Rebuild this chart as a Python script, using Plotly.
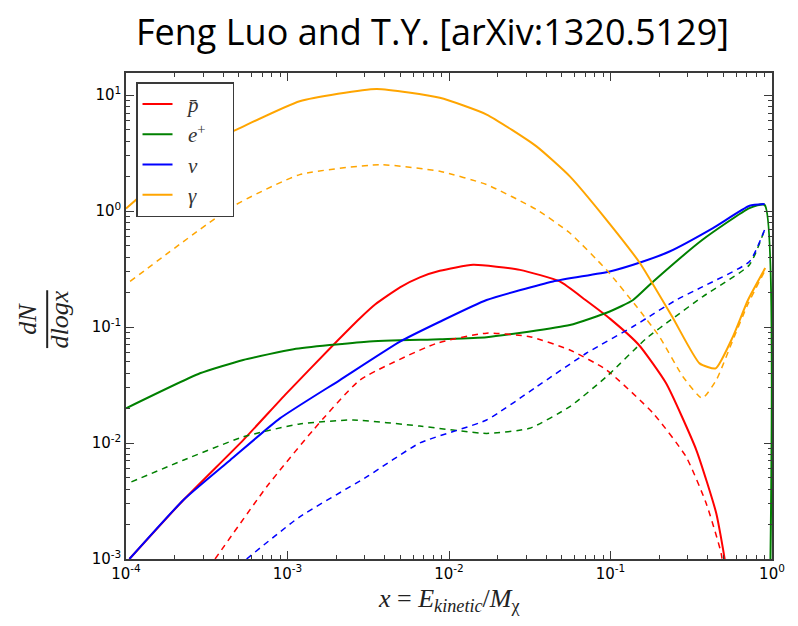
import plotly.graph_objects as go

# ---------------- data ----------------
# anti-proton
pbar_x = [1.05e-4, 2.26e-4, 5.32e-4, 9.86e-4, 1.92e-3, 2.81e-3, 3.5e-3, 4.97e-3, 6.6e-3, 8.77e-3,
          1.41e-2, 2.75e-2, 4.85e-2, 7.0e-2, 0.10, 0.15, 0.221, 0.34, 0.452, 0.509, 0.537]
pbar_y = [1.0e-3, 3.21e-3, 1.06e-2, 2.68e-2, 7.0e-2, 0.119, 0.157, 0.22, 0.268, 0.305,
          0.344, 0.311, 0.247, 0.171, 0.117, 0.070, 0.0327, 8.7e-3, 2.47e-3, 1.0e-3, 5.0e-4]
pbar_d_x = [3.56e-4, 7.43e-4, 1.44e-3, 2.81e-3, 8.38e-3, 1.71e-2, 3.16e-2, 5.6e-2, 0.0944, 0.184,
            0.294, 0.392, 0.485, 0.51]
pbar_d_y = [1.0e-3, 4.19e-3, 1.29e-2, 3.49e-2, 0.0724, 0.0885, 0.0826, 0.0634, 0.0427, 0.018,
            7.6e-3, 3.0e-3, 1.11e-3, 6.0e-4]

# positron
ep_x = [1.0e-4, 2.87e-4, 5.32e-4, 1.09e-3, 3.09e-3, 8.77e-3, 1.71e-2, 5.6e-2, 0.0989, 0.138,
        0.184, 0.373, 0.726, 0.90, 0.97]
ep_y = [0.0199, 0.0399, 0.052, 0.0643, 0.0748, 0.0785, 0.0817, 0.104, 0.136, 0.171,
        0.247, 0.568, 1.06, 1.13, 4.0e-4]
ep_d_x = [1.08e-4, 2.26e-4, 5.32e-4, 1.19e-3, 2.55e-3, 6.59e-3, 1.71e-2, 3.16e-2, 5.6e-2, 0.0944,
          0.167, 0.244, 0.373, 0.726, 0.90]
ep_d_y = [4.62e-3, 7.1e-3, 0.0113, 0.0146, 0.0158, 0.014, 0.0121, 0.0134, 0.0206, 0.0373,
          0.080, 0.119, 0.183, 0.344, 0.69]

# neutrino
nu_x = [1.05e-4, 2.26e-4, 4.41e-4, 8.97e-4, 2.11e-3, 4.97e-3, 8.77e-3, 1.71e-2, 4.41e-2, 0.0989,
        0.159, 0.232, 0.431, 0.726, 0.90]
nu_y = [1.0e-3, 3.21e-3, 7.1e-3, 1.63e-2, 3.49e-2, 0.0748, 0.111, 0.171, 0.247, 0.301,
        0.367, 0.448, 0.713, 1.11, 1.15]
nu_d_x = [5.58e-4, 1.19e-3, 3.09e-3, 6.59e-3, 1.71e-2, 3.48e-2, 7.08e-2, 0.138, 0.167, 0.255,
          0.373, 0.726, 0.90]
nu_d_y = [1.0e-3, 2.31e-3, 5.1e-3, 0.010, 0.0158, 0.0305, 0.0594, 0.101, 0.119, 0.171,
          0.223, 0.367, 0.69]

# gamma
ga_x = [1.0e-4, 2.87e-4, 4.84e-4, 1.19e-3, 3.56e-3, 8.77e-3, 1.71e-2, 3.48e-2, 5.6e-2, 0.0944,
        0.152, 0.244, 0.356, 0.448, 0.573, 0.71, 0.908]
ga_y = [1.05, 3.61, 5.04, 8.85, 11.3, 9.46, 6.79, 3.61, 1.99, 0.84,
        0.356, 0.119, 0.0486, 0.044, 0.0826, 0.171, 0.322]
ga_d_x = [1.06e-4, 4.61e-4, 1.19e-3, 3.73e-3, 8.77e-3, 1.71e-2, 3.48e-2, 5.6e-2, 0.0944, 0.145,
          0.201, 0.281, 0.37, 0.452, 0.573, 0.71, 0.908]
ga_d_y = [0.247, 1.10, 2.06, 2.51, 2.2, 1.69, 1.03, 0.646, 0.311, 0.15,
          0.0826, 0.0373, 0.0243, 0.0349, 0.0774, 0.158, 0.31]

labels = ["<i>p\u0304</i>", "<i>e</i><sup>+</sup>", "<i>\u03bd</i>", "<i>\u03b3</i>"]
colors = ["#ff0000", "#008000", "#0000ff", "#ffa500"]
solid = [(pbar_x, pbar_y), (ep_x, ep_y), (nu_x, nu_y), (ga_x, ga_y)]
dashed = [(pbar_d_x, pbar_d_y), (ep_d_x, ep_d_y), (nu_d_x, nu_d_y), (ga_d_x, ga_d_y)]

x_tick_vals = [1e-4, 1e-3, 1e-2, 1e-1, 1]
x_tick_text = ["10<sup>-4</sup>", "10<sup>-3</sup>", "10<sup>-2</sup>", "10<sup>-1</sup>", "10<sup>0</sup>"]
y_tick_vals = [1e-3, 1e-2, 1e-1, 1, 10]
y_tick_text = ["10<sup>-3</sup>", "10<sup>-2</sup>", "10<sup>-1</sup>", "10<sup>0</sup>", "10<sup>1</sup>"]
minor_mult = [2, 3, 4, 5, 6, 7, 8, 9]
x_minor = [m * 10.0 ** e for e in range(-4, 0) for m in minor_mult]
y_minor = [m * 10.0 ** e for e in range(-3, 2) for m in minor_mult]

fig = go.Figure()
for (xs, ys), c, lab in zip(solid, colors, labels):
    fig.add_trace(go.Scatter(x=xs, y=ys, mode="lines", name="\u2002" + lab + "\u2002\u2002",
                             legendgroup=lab,
                             line=dict(color=c, width=2, shape="spline", smoothing=0.5)))
for (xs, ys), c, lab in zip(dashed, colors, labels):
    fig.add_trace(go.Scatter(x=xs, y=ys, mode="lines", showlegend=False, legendgroup=lab,
                             line=dict(color=c, width=1.5, dash="6px,5px",
                                       shape="spline", smoothing=0.5)))

axis_common = dict(
    type="log", showgrid=False, zeroline=False,
    showline=True, linecolor="#3a3a3a", linewidth=1.5, mirror="allticks",
    ticks="inside", ticklen=8, tickcolor="#3a3a3a", tickwidth=1,
    tickfont=dict(family="DejaVu Sans", size=15, color="black"),
)
fig.update_xaxes(range=[-4, 0], tickmode="array", tickvals=x_tick_vals, ticktext=x_tick_text,
                 minor=dict(ticks="inside", ticklen=4, tickcolor="#3a3a3a", tickmode="array",
                            tickvals=x_minor, showgrid=False),
                 **axis_common)
fig.update_yaxes(range=[-3, 1.19], tickmode="array", tickvals=y_tick_vals, ticktext=y_tick_text,
                 minor=dict(ticks="inside", ticklen=4, tickcolor="#3a3a3a", tickmode="array",
                            tickvals=y_minor, showgrid=False),
                 **axis_common)

fig.update_layout(
    width=798, height=626,
    margin=dict(l=126, r=26, t=73, b=67),
    paper_bgcolor="white", plot_bgcolor="white",
    showlegend=True,
    legend=dict(x=0.0155, y=0.981, xanchor="left", yanchor="top",
                bordercolor="#3a3a3a", borderwidth=1.5, bgcolor="white",
                font=dict(family="Liberation Serif", size=21, color="#333"),
                traceorder="grouped", tracegroupgap=0),
    title=dict(text="Feng Luo and T.Y. [arXiv:1320.5129]", x=0.542, xanchor="center",
               y=0.949, yanchor="middle", font=dict(family="Open Sans", size=36, color="black")),
)

lab_font = dict(family="Liberation Serif", size=26, color="#222")
fig.add_annotation(text="<i>x</i> = <i>E</i><sub><i>kinetic</i></sub>/<i>M</i><sub>\u03c7</sub>",
                   xref="paper", yref="paper", x=0.50, y=-0.085, xanchor="center", yanchor="middle",
                   showarrow=False, font=lab_font)
fig.add_annotation(text="<i>dN</i>", xref="paper", yref="paper", x=-0.152, y=0.494,
                   xanchor="center", yanchor="middle", showarrow=False, textangle=-90, font=lab_font)
fig.add_annotation(text="<i>dlogx</i>", xref="paper", yref="paper", x=-0.103, y=0.494,
                   xanchor="center", yanchor="middle", showarrow=False, textangle=-90, font=lab_font)
fig.add_shape(type="line", xref="paper", yref="paper", x0=-0.122, x1=-0.122,
              y0=0.434, y1=0.553, line=dict(color="#222", width=2))

fig.write_html("out.html")
